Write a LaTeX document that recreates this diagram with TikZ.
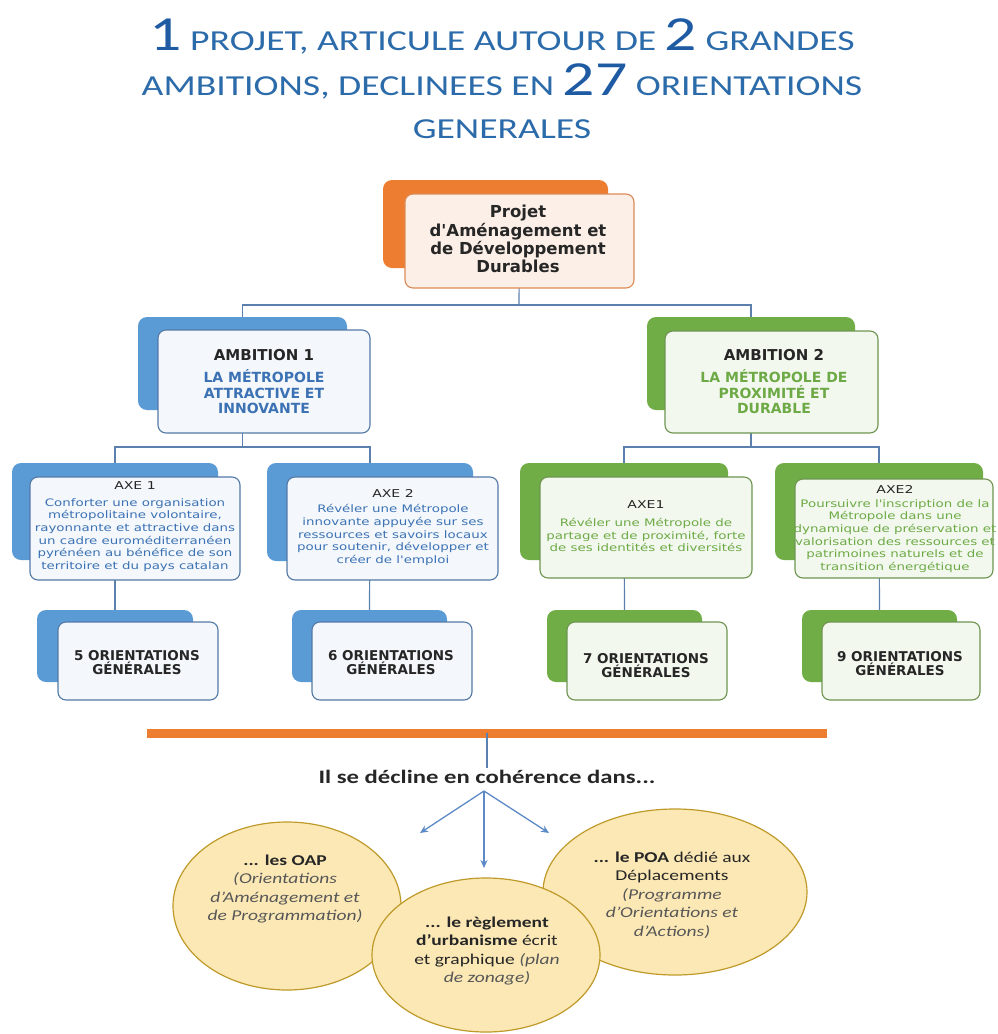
\documentclass[tikz,border=0pt]{standalone}
\usepackage{fontspec}
\setmainfont{Carlito}[FakeStretch=1.3]
\newfontfamily\boxsans{DejaVu Sans}[FakeStretch=1.3]
\newfontfamily\boxbold{DejaVu Sans Bold}
\usetikzlibrary{shapes.geometric,arrows.meta}
\pgfdeclarelayer{background}
\pgfsetlayers{background,main}

\definecolor{ttlblue}{HTML}{2C6BAA}
\definecolor{digblue}{HTML}{1E5BA3}
\definecolor{orangeA}{HTML}{ED7D31}
\definecolor{paddline}{HTML}{DC8A55}
\definecolor{paddfill}{HTML}{FCEFE7}
\definecolor{blueA}{HTML}{5B9BD5}
\definecolor{blueline}{HTML}{5479A6}
\definecolor{bluefill}{HTML}{F4F8FC}
\definecolor{bluetext}{HTML}{3C72B4}
\definecolor{greenA}{HTML}{70AD47}
\definecolor{greenline}{HTML}{6E9550}
\definecolor{greenfill}{HTML}{F3F8EF}
\definecolor{greentext}{HTML}{6DAA45}
\definecolor{connc}{HTML}{5B80AD}
\definecolor{arrc}{HTML}{5B8AC6}
\definecolor{ellfill}{HTML}{FBE8B5}
\definecolor{elldraw}{HTML}{BF9A2A}
\definecolor{darktext}{HTML}{262626}
\definecolor{itgrey}{HTML}{575757}

\newcommand\BigNum[1]{{\fontsize{49}{49}\selectfont\color{digblue}#1}}

\begin{document}
\begin{tikzpicture}[x=1pt,y=-1pt,
  backbox/.style={rectangle, rounded corners=9pt, draw=none, inner sep=0pt},
  frontbox/.style={rectangle, rounded corners=8pt, line width=1.1pt, inner sep=0pt},
  conn/.style={draw=connc, line width=1.2pt},
  arr/.style={draw=arrc, line width=1.3pt, -{Stealth[length=8pt,width=7pt]}},
  ell/.style={ellipse, draw=elldraw, fill=ellfill, line width=1.2pt, inner sep=0pt},
  ttl/.style={anchor=base, inner sep=0pt, text=ttlblue, font=\fontsize{29}{29}\selectfont},
  headtxt/.style={inner sep=0pt, align=center, text=darktext, font=\boxbold\fontsize{16.5}{18.3}\selectfont},
  ambtitle/.style={inner sep=0pt, align=center, text=darktext, font=\boxbold\fontsize{15}{16}\selectfont},
  ambsub/.style={inner sep=0pt, align=center, font=\boxbold\fontsize{14}{15.5}\selectfont},
  axetitle/.style={inner sep=0pt, align=center, text=darktext, font=\boxsans\fontsize{10.8}{12.6}\selectfont},
  axebody/.style={inner sep=0pt, align=center, font=\boxsans\fontsize{10.3}{12.6}\selectfont},
  ogtxt/.style={inner sep=0pt, align=center, text=darktext, font=\boxbold\fontsize{13.5}{14}\selectfont},
  elltxt/.style={inner sep=0pt, align=center, text=darktext, font=\fontsize{15}{18.5}\selectfont}
]
\useasboundingbox (0,0) rectangle (997,1034);

% ---------- title ----------
\node[ttl] (title1) at (502,50) {\BigNum{1} PROJET, ARTICULE AUTOUR DE \BigNum{2} GRANDES};
\node[ttl] (title2) at (502,95) {AMBITIONS, DECLINEES EN \BigNum{27} ORIENTATIONS};
\node[ttl] (title3) at (502,138) {GENERALES};

% ---------- PADD ----------
\node[backbox, fill=orangeA, minimum width=225pt, minimum height=88pt] (paddb) at (495.5,224) {};
\node[frontbox, draw=paddline, fill=paddfill, minimum width=229pt, minimum height=94pt] (paddf) at (519.5,241) {};
\node[headtxt] (paddt) at (518,239) {Projet\\d'Aménagement et\\de Développement\\Durables};

% ---------- ambitions ----------
\node[backbox, fill=blueA, minimum width=209pt, minimum height=93pt] (a1b) at (242.5,363.5) {};
\node[frontbox, draw=blueline, fill=bluefill, minimum width=212pt, minimum height=103pt] (a1f) at (264,381.5) {};
\node[ambtitle] (a1t) at (264,355) {AMBITION 1};
\node[ambsub, text=bluetext] (a1s) at (264,392) {LA MÉTROPOLE\\ATTRACTIVE ET\\INNOVANTE};

\node[backbox, fill=greenA, minimum width=208pt, minimum height=93pt] (a2b) at (751,363.5) {};
\node[frontbox, draw=greenline, fill=greenfill, minimum width=213pt, minimum height=102pt] (a2f) at (771.5,382) {};
\node[ambtitle] (a2t) at (774,355) {AMBITION 2};
\node[ambsub, text=greentext] (a2s) at (774,392) {LA MÉTROPOLE DE\\PROXIMITÉ ET\\DURABLE};

% ---------- axes ----------
\node[backbox, fill=blueA, minimum width=206pt, minimum height=97pt] (x1b) at (115,511.5) {};
\node[frontbox, draw=blueline, fill=bluefill, minimum width=210pt, minimum height=103pt] (x1f) at (135,528.5) {};
\node[axetitle] (x1t) at (135,486) {AXE 1};
\node[axebody, text=bluetext] (x1d) at (135,535) {Conforter une organisation\\métropolitaine volontaire,\\rayonnante et attractive dans\\un cadre euroméditerranéen\\pyrénéen au bénéfice de son\\territoire et du pays catalan};

\node[backbox, fill=blueA, minimum width=206pt, minimum height=98pt] (x2b) at (370,512) {};
\node[frontbox, draw=blueline, fill=bluefill, minimum width=211pt, minimum height=103pt] (x2f) at (392.5,528.5) {};
\node[axetitle] (x2t) at (393,493) {AXE 2};
\node[axebody, text=bluetext] (x2d) at (393,535) {Révéler une Métropole\\innovante appuyée sur ses\\ressources et savoirs locaux\\pour soutenir, développer et\\créer de l'emploi};

\node[backbox, fill=greenA, minimum width=208pt, minimum height=97pt] (x3b) at (624,511.5) {};
\node[frontbox, draw=greenline, fill=greenfill, minimum width=212pt, minimum height=101pt] (x3f) at (646,527.5) {};
\node[axetitle] (x3t) at (646,505) {AXE1};
\node[axebody, text=greentext] (x3d) at (646,535) {Révéler une Métropole de\\partage et de proximité, forte\\de ses identités et diversités};

\node[backbox, fill=greenA, minimum width=208pt, minimum height=97pt] (x4b) at (879,511.5) {};
\node[frontbox, draw=greenline, fill=greenfill, minimum width=198pt, minimum height=99pt] (x4f) at (894,528.5) {};
\node[axetitle] (x4t) at (895,489) {AXE2};
\node[axebody, text=greentext] (x4d) at (895,536) {Poursuivre l'inscription de la\\Métropole dans une\\dynamique de préservation et\\valorisation des ressources et\\patrimoines naturels et de\\transition énergétique};

% ---------- orientations ----------
\node[backbox, fill=blueA, minimum width=156pt, minimum height=72pt] (o1b) at (115,646) {};
\node[frontbox, draw=blueline, fill=bluefill, minimum width=160pt, minimum height=78pt] (o1f) at (138,661) {};
\node[ogtxt] (o1t) at (137,663) {5 ORIENTATIONS\\GÉNÉRALES};

\node[backbox, fill=blueA, minimum width=155pt, minimum height=72pt] (o2b) at (369.5,646) {};
\node[frontbox, draw=blueline, fill=bluefill, minimum width=160pt, minimum height=78pt] (o2f) at (392,661) {};
\node[ogtxt] (o2t) at (391,663) {6 ORIENTATIONS\\GÉNÉRALES};

\node[backbox, fill=greenA, minimum width=155pt, minimum height=72pt] (o3b) at (624.5,646) {};
\node[frontbox, draw=greenline, fill=greenfill, minimum width=160pt, minimum height=78pt] (o3f) at (647,661) {};
\node[ogtxt] (o3t) at (646,666) {7 ORIENTATIONS\\GÉNÉRALES};

\node[backbox, fill=greenA, minimum width=155pt, minimum height=72pt] (o4b) at (879.5,646) {};
\node[frontbox, draw=greenline, fill=greenfill, minimum width=158pt, minimum height=78pt] (o4f) at (901,661) {};
\node[ogtxt] (o4t) at (900,664) {9 ORIENTATIONS\\GÉNÉRALES};

% ---------- tree connectors, behind the boxes ----------
\begin{pgfonlayer}{background}
  \coordinate (h0) at (519,305);
  \coordinate (h1) at (242.5,447);
  \coordinate (h2) at (751,447);
  \draw[conn] (paddf.center) -- (h0);
  \draw[conn] (a1b.north) |- (h0) -| (a2b.north);
  \draw[conn] (a1b.center) -- (h1);
  \draw[conn] (x1b.north) |- (h1) -| (x2b.north);
  \draw[conn] (a2b.center) -- (h2);
  \draw[conn] (x3b.north) |- (h2) -| (x4b.north);
  \draw[conn] (x1b.center) -- (o1b.north);
  \draw[conn] (x2b.center) -- (o2b.north);
  \draw[conn] (x3b.center) -- (o3b.north);
  \draw[conn] (x4b.center) -- (o4b.north);
\end{pgfonlayer}

% ---------- separator and lead-in ----------
\node[fill=orangeA, inner sep=0pt, minimum width=680pt, minimum height=9pt] (bar) at (487,733) {};
\node[inner sep=2pt, text=darktext, font=\bfseries\fontsize{19}{19}\selectfont] (cap) at (487,777) {Il se décline en cohérence dans...};
\draw[conn] (bar.center -| cap.north) -- (cap.north);

\coordinate (apex) at (484,791);
\coordinate (tl) at (420,833);
\coordinate (tc) at (484,868);
\coordinate (tr) at (549,833);
\draw[arr] (apex) -- (tl);
\draw[arr] (apex) -- (tc);
\draw[arr] (apex) -- (tr);

% ---------- documents ----------
\node[ell, minimum width=228pt, minimum height=168pt] (oap) at (287,906) {};
\node[ell, minimum width=264pt, minimum height=166pt] (poa) at (675,892) {};
\node[ell, minimum width=228pt, minimum height=154pt] (reg) at (486,955) {};

\node[elltxt] (oapt) at (285,889) {{\bfseries ... les OAP}\\{\color{itgrey}\itshape (Orientations}\\{\color{itgrey}\itshape d'Aménagement et}\\{\color{itgrey}\itshape de Programmation)}};
\node[elltxt] (poat) at (672,895) {{\bfseries ... le POA} dédié aux\\Déplacements\\{\color{itgrey}\itshape (Programme}\\{\color{itgrey}\itshape d'Orientations et}\\{\color{itgrey}\itshape d'Actions)}};
\node[elltxt] (regt) at (487,951) {{\bfseries ... le règlement}\\{\bfseries d'urbanisme} écrit\\et graphique {\color{itgrey}\itshape (plan}\\{\color{itgrey}\itshape de zonage)}};
\end{tikzpicture}
\end{document}
